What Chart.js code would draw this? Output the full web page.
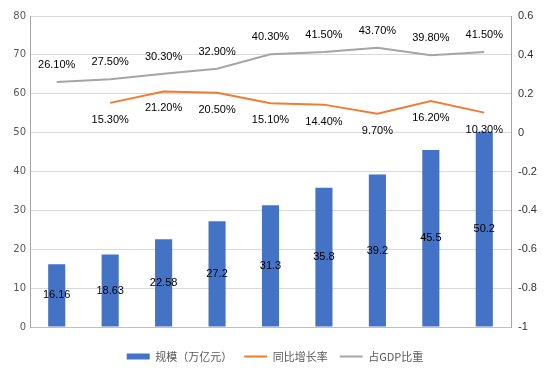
<!DOCTYPE html>
<html>
<head>
<meta charset="utf-8">
<script src="https://cdn.jsdelivr.net/npm/chart.js@4/dist/chart.umd.min.js"></script>
<style>
  html, body { margin: 0; padding: 0; background: #fff; }
  #wrap { width: 550px; height: 387px; }
</style>
</head>
<body>
<div id="wrap"><canvas id="scaleChart"></canvas></div>
<script>
const years = ['2014', '2015', '2016', '2017', '2018', '2019', '2020', '2021', '2022'];
const scaleValues = [16.16, 18.63, 22.58, 27.2, 31.3, 35.8, 39.2, 45.5, 50.2];
const growthRates = [null, 0.153, 0.212, 0.205, 0.151, 0.144, 0.097, 0.162, 0.103];
const gdpShares = [0.261, 0.275, 0.303, 0.329, 0.403, 0.415, 0.437, 0.398, 0.415];

const labelFont = '11px "Liberation Sans", Arial, sans-serif';

// draws the value labels (no datalabels plugin offline)
const valueLabels = {
    id: 'valueLabels',
    afterDatasetsDraw(chart) {
        const ctx = chart.ctx;
        ctx.save();
        ctx.font = labelFont;
        ctx.fillStyle = '#000';
        ctx.textAlign = 'center';
        ctx.textBaseline = 'middle';
        chart.data.datasets.forEach((ds, i) => {
            const meta = chart.getDatasetMeta(i);
            meta.data.forEach((el, j) => {
                const v = ds.data[j];
                if (v === null) return;
                if (ds.type === 'bar') {
                    ctx.fillText(String(v), el.x, (el.y + el.base) / 2);
                } else {
                    const txt = (v * 100).toFixed(2) + '%';
                    const dy = ds.labelSide === 'above' ? -17 : 17;
                    ctx.fillText(txt, el.x, el.y + dy);
                }
            });
        });
        ctx.restore();
    }
};

const ctx = document.getElementById('scaleChart').getContext('2d');
const scaleChart = new Chart(ctx, {
    data: {
        labels: years,
        datasets: [
            {
                type: 'bar',
                label: '规模（万亿元）',
                data: scaleValues,
                backgroundColor: '#4472C4',
                borderWidth: 0,
                barPercentage: 0.32,
                categoryPercentage: 1,
                pointStyle: 'rect',
                yAxisID: 'y'
            },
            {
                type: 'line',
                label: '同比增长率',
                data: growthRates,
                borderColor: '#ED7D31',
                backgroundColor: '#ED7D31',
                borderWidth: 2,
                pointRadius: 0,
                pointStyle: 'line',
                tension: 0,
                labelSide: 'below',
                yAxisID: 'y1'
            },
            {
                type: 'line',
                label: '占GDP比重',
                data: gdpShares,
                borderColor: '#A5A5A5',
                backgroundColor: '#A5A5A5',
                borderWidth: 2,
                pointRadius: 0,
                pointStyle: 'line',
                tension: 0,
                labelSide: 'above',
                yAxisID: 'y1'
            }
        ]
    },
    options: {
        responsive: true,
        maintainAspectRatio: false,
        animation: false,
        layout: {
            padding: { top: 16, bottom: 15, left: 0, right: 0 }
        },
        scales: {
            x: {
                grid: { display: false },
                border: { color: '#BFBFBF' },
                ticks: {
                    color: '#595959',
                    font: { size: 9, family: '"Liberation Sans", Arial, sans-serif' },
                    padding: 9,
                    maxRotation: 0
                },
                afterFit: (scale) => { scale.height = 12; }
            },
            y: {
                position: 'left',
                min: 0,
                max: 80,
                ticks: {
                    stepSize: 10,
                    color: '#595959',
                    padding: 4,
                    font: { size: 10, family: '"DejaVu Sans", sans-serif' }
                },
                grid: { color: '#D9D9D9', drawTicks: false },
                border: { color: '#A6A6A6' },
                afterFit: (scale) => { scale.width = 30; }
            },
            y1: {
                position: 'right',
                min: -1,
                max: 0.6,
                ticks: {
                    stepSize: 0.2,
                    color: '#333',
                    padding: 7,
                    font: { size: 11, family: '"Liberation Sans", Arial, sans-serif' },
                    callback: (v) => String(Math.round(v * 10) / 10)
                },
                grid: { display: false, drawTicks: false },
                border: { color: '#A6A6A6' },
                afterFit: (scale) => { scale.width = 39; }
            }
        },
        plugins: {
            legend: {
                position: 'bottom',
                labels: {
                    usePointStyle: true,
                    pointStyleWidth: 23,
                    boxHeight: 6,
                    padding: 12,
                    color: '#595959',
                    font: { size: 11, family: '"Noto Sans CJK SC", sans-serif' }
                }
            },
            tooltip: { enabled: false }
        }
    },
    plugins: [valueLabels]
});
</script>
</body>
</html>
